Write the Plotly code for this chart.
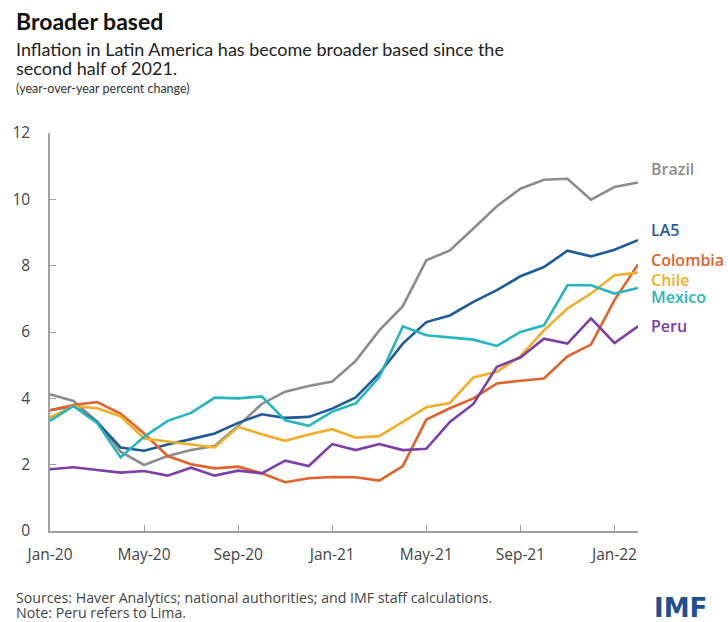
import plotly.graph_objects as go

months = ["Jan-20","Feb-20","Mar-20","Apr-20","May-20","Jun-20","Jul-20","Aug-20","Sep-20","Oct-20","Nov-20","Dec-20",
          "Jan-21","Feb-21","Mar-21","Apr-21","May-21","Jun-21","Jul-21","Aug-21","Sep-21","Oct-21","Nov-21","Dec-21",
          "Jan-22","Feb-22"]
tick_labels = ["Jan-20","May-20","Sep-20","Jan-21","May-21","Sep-21","Jan-22"]
y_ticks = [0, 2, 4, 6, 8, 10, 12]

brazil   = [4.12,3.92,3.30,2.39,1.99,2.26,2.44,2.56,3.17,3.83,4.20,4.37,4.51,5.13,6.05,6.78,8.16,8.46,9.12,9.79,10.32,10.59,10.62,9.99,10.37,10.51]
la5      = [3.64,3.77,3.29,2.52,2.42,2.61,2.77,2.94,3.26,3.52,3.41,3.44,3.69,4.03,4.75,5.65,6.30,6.50,6.91,7.26,7.68,7.96,8.45,8.28,8.48,8.77]
colombia = [3.64,3.80,3.89,3.54,2.94,2.26,2.01,1.89,1.94,1.74,1.47,1.59,1.63,1.62,1.52,1.96,3.36,3.70,4.00,4.45,4.53,4.60,5.27,5.62,6.96,8.04]
chile    = [3.42,3.77,3.70,3.46,2.79,2.71,2.61,2.52,3.14,2.92,2.72,2.91,3.07,2.81,2.86,3.29,3.73,3.86,4.63,4.80,5.27,6.05,6.71,7.16,7.71,7.79]
mexico   = [3.32,3.77,3.26,2.22,2.84,3.32,3.56,4.02,4.00,4.06,3.34,3.17,3.60,3.85,4.64,6.17,5.90,5.83,5.77,5.58,6.00,6.20,7.41,7.41,7.16,7.33]
peru     = [1.86,1.92,1.84,1.76,1.81,1.67,1.91,1.67,1.82,1.74,2.12,1.96,2.62,2.44,2.62,2.44,2.48,3.29,3.83,4.95,5.23,5.80,5.65,6.41,5.67,6.17]

series = [
    ("Brazil", brazil, "#8c8c8c", 13),
    ("LA5", la5, "#1f5b99", 10),
    ("Colombia", colombia, "#e2622b", 4),
    ("Chile", chile, "#f1ae27", -7),
    ("Mexico", mexico, "#26b6bd", -9),
    ("Peru", peru, "#7b3fa6", 0),
]

W, H = 728, 622
L, R, T, B = 46.4, 90.4, 132.7, 91.0
pw, ph = W - L - R, H - T - B

def px_x(px):
    return (px - L) / pw

def px_y(py):
    return (H - B - py) / ph

FONT = "Lato"
FONT2 = "Open Sans"
fig = go.Figure()
for name, vals, color, dy in series:
    fig.add_trace(go.Scatter(x=months, y=vals, mode="lines", name=name,
                             line=dict(color=color, width=2.6), showlegend=False))
    fig.add_annotation(x=months[-1], y=vals[-1], xref="x", yref="y", text=name,
                       showarrow=False, xanchor="left", yanchor="middle", xshift=11, yshift=dy,
                       font=dict(family=FONT2, size=16, color=color, weight=600))

texts = [
    ("<b>Broader based</b>", 10, 21, 23, "#111111", FONT),
    ("Inflation in Latin America has become broader based since the", 10, 49, 18, "#222222", FONT),
    ("second half of 2021.", 10, 68, 18, "#222222", FONT),
    ("(year-over-year percent change)", 10, 88, 12.5, "#333333", FONT),
    ("Sources: Haver Analytics; national authorities; and IMF staff calculations.", 10, 598, 14.2, "#444444", FONT2),
    ("Note: Peru refers to Lima.", 10, 613, 14.2, "#444444", FONT2),
]
for t, x, y, s, c, f in texts:
    fig.add_annotation(x=px_x(x), y=px_y(y), xref="paper", yref="paper", text=t, showarrow=False,
                       xanchor="left", yanchor="middle", font=dict(family=f, size=s, color=c))
fig.add_annotation(x=px_x(709), y=px_y(608), xref="paper", yref="paper", text="<b>IMF</b>", showarrow=False,
                   xanchor="right", yanchor="middle", font=dict(family="DejaVu Sans", size=26, color="#1f4f8f"))

axis_common = dict(showgrid=False, zeroline=False, showline=True, linecolor="#a0a0a0", linewidth=1.5,
                   ticks="inside", ticklen=6, tickcolor="#a0a0a0", tickwidth=1.2,
                   tickfont=dict(family=FONT2, size=15.5, color="#444444"))
fig.update_xaxes(type="category", range=[0, len(months) - 1], tickmode="array",
                 tickvals=tick_labels, ticktext=tick_labels, ticklabelstandoff=9, **axis_common)
fig.update_yaxes(range=[0, 12], tickmode="array", tickvals=y_ticks, ticklabelstandoff=15, **axis_common)

fig.update_layout(width=W, height=H, margin=dict(l=L, r=R, t=T, b=B),
                  paper_bgcolor="white", plot_bgcolor="white", showlegend=False)
fig.write_html("out.html", config={"displayModeBar": False},
               post_script="document.body.style.margin='0';")
